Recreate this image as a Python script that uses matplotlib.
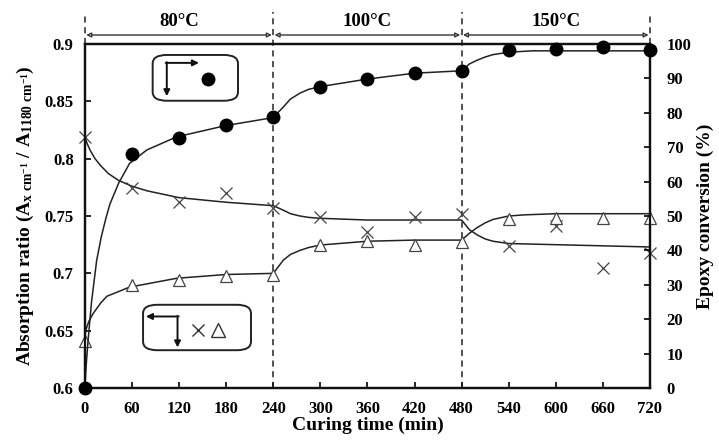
import matplotlib
matplotlib.use("Agg")
import matplotlib.pyplot as plt
from matplotlib.patches import FancyBboxPatch

# measured points
time = [0, 60, 120, 180, 240, 300, 360, 420, 480, 540, 600, 660, 720]
conversion = [0, 68.0, 72.8, 76.4, 78.7, 87.6, 89.8, 91.5, 92.2, 98.1, 98.5, 99.0, 98.3]
ratio_x = [0.819, 0.774, 0.762, 0.770, 0.757, 0.749, 0.736, 0.749, 0.752,
           0.724, 0.741, 0.705, 0.718]
ratio_tri = [0.641, 0.690, 0.694, 0.698, 0.699, 0.725, 0.728, 0.725, 0.727,
             0.747, 0.748, 0.748, 0.748]

# fitted curves
fit_t_conv = [0, 1, 2, 4, 8.5, 15, 21, 27, 32, 43, 57, 79, 117, 180, 240, 253, 262,
              274, 285, 300, 360, 420, 480, 490, 500, 510, 520, 540, 570, 720]
fit_conv = [0, 4, 7.5, 13.5, 25, 37, 44, 49.5, 53.5, 59.5, 65.3, 69.2, 73, 76.3, 78.6,
            81.7, 84.0, 85.7, 86.8, 87.6, 89.8, 91.5, 92.2, 94.2, 95.3, 96.2, 96.9,
            97.6, 98, 98]
fit_t_x = [0, 3, 7, 13, 20, 30, 43, 60, 79, 120, 180, 240, 253, 262, 274, 285, 300,
           360, 420, 480, 490, 500, 510, 520, 540, 600, 720]
fit_x = [0.819, 0.813, 0.807, 0.800, 0.794, 0.787, 0.781, 0.776, 0.772, 0.766, 0.762,
         0.759, 0.755, 0.752, 0.750, 0.7488, 0.748, 0.7465, 0.7465, 0.7465, 0.738,
         0.7335, 0.730, 0.728, 0.726, 0.725, 0.723]
fit_t_tri = [0, 1.5, 5, 10.6, 20, 28, 57, 117, 180, 240, 253, 262, 274, 285, 300, 360,
             420, 480, 490, 500, 510, 520, 540, 560, 600, 720]
fit_tri = [0.645, 0.651, 0.658, 0.665, 0.674, 0.680, 0.688, 0.6957, 0.699, 0.700,
           0.7116, 0.7165, 0.720, 0.7225, 0.7247, 0.728, 0.729, 0.729, 0.735, 0.740,
           0.744, 0.747, 0.750, 0.751, 0.752, 0.752]

stages = ["80°C", "100°C", "150°C"]
stage_edges = [0, 240, 480, 720]
xticks = list(range(0, 721, 60))
left_ticks = [0.6, 0.65, 0.7, 0.75, 0.8, 0.85, 0.9]
left_labels = ["0.6", "0.65", "0.7", "0.75", "0.8", "0.85", "0.9"]
right_ticks = list(range(0, 101, 10))

plt.rcParams["font.family"] = "Liberation Serif"
plt.rcParams["font.weight"] = "bold"
plt.rcParams["mathtext.fontset"] = "custom"
plt.rcParams["mathtext.rm"] = "Liberation Serif:bold"
plt.rcParams["mathtext.it"] = "Liberation Serif:bold"
plt.rcParams["mathtext.bf"] = "Liberation Serif:bold"

fig = plt.figure(figsize=(7.19, 4.44), dpi=100)
ax = fig.add_axes([0.118, 0.126, 0.786, 0.775])
ax2 = ax.twinx()

ax.set_xlim(0, 720)
ax.set_ylim(0.6, 0.9)
ax2.set_ylim(0, 100)

# stage separators
for t in stage_edges:
    lo = 0.6 if t in (240, 480) else 0.9
    ax.plot([t, t], [lo, 0.928], ls=(0, (4, 3)), color="#222222", lw=1.1, clip_on=False)
for a, b, name in zip(stage_edges[:-1], stage_edges[1:], stages):
    ax.annotate("", xy=(a, 0.9078), xytext=(b, 0.9078), annotation_clip=False,
                arrowprops=dict(arrowstyle="<|-|>", color="#333333", lw=1.0,
                                shrinkA=1, shrinkB=1, mutation_scale=7,
                                fc="white"))
    ax.text((a + b) / 2, 0.9195, name, ha="center", va="center", fontsize=13.5,
            fontweight="bold", clip_on=False)

# curves and markers
ax.plot(fit_t_x, fit_x, color="#222222", lw=1.1)
ax.plot(fit_t_tri, fit_tri, color="#222222", lw=1.1)
ax.plot(time, ratio_x, ls="none", marker="x", ms=9, mew=0.9, color="#444444",
        clip_on=False, zorder=4)
ax.plot(time, ratio_tri, ls="none", marker="^", ms=9, mew=0.9, mfc="white",
        mec="#444444", clip_on=False, zorder=4)
ax2.plot(fit_t_conv, fit_conv, color="#222222", lw=1.1)
ax2.plot(time, conversion, ls="none", marker="o", ms=9, color="black",
         clip_on=False, zorder=5)

# key boxes
for box in [(0.120, 0.835, 0.151, 0.133), (0.103, 0.110, 0.191, 0.132)]:
    ax.add_patch(FancyBboxPatch(box[:2], box[2], box[3], transform=ax.transAxes,
                                boxstyle="round,pad=0,rounding_size=0.025",
                                fc="white", ec="#222222", lw=1.4, zorder=6))
akw = dict(arrowstyle="-|>", color="#111111", lw=1.4, mutation_scale=9,
           shrinkA=0, shrinkB=0)
ax.annotate("", xy=(0.145, 0.848), xytext=(0.145, 0.947), xycoords="axes fraction",
            arrowprops=akw, zorder=7)
ax.annotate("", xy=(0.202, 0.945), xytext=(0.143, 0.945), xycoords="axes fraction",
            arrowprops=akw, zorder=7)
ax.plot([0.218], [0.898], "o", ms=9, color="black", transform=ax.transAxes, zorder=7)
ax.annotate("", xy=(0.108, 0.208), xytext=(0.166, 0.208), xycoords="axes fraction",
            arrowprops=akw, zorder=7)
ax.annotate("", xy=(0.164, 0.118), xytext=(0.164, 0.210), xycoords="axes fraction",
            arrowprops=akw, zorder=7)
ax.plot([0.200], [0.169], "x", ms=9, mew=1.0, color="#333333", transform=ax.transAxes,
        zorder=7)
ax.plot([0.236], [0.169], "^", ms=10, mew=1.0, mfc="white", mec="#333333",
        transform=ax.transAxes, zorder=7)

# axes styling
for a in (ax, ax2):
    for s in a.spines.values():
        s.set_linewidth(1.6)
        s.set_color("#111111")
ax.set_xticks(xticks)
ax.set_yticks(left_ticks)
ax.set_yticklabels(left_labels)
ax2.set_yticks(right_ticks)
ax.tick_params(axis="x", direction="in", length=4, width=1.2, pad=9, labelsize=12)
ax.tick_params(axis="y", direction="in", length=4, width=1.2, pad=8, labelsize=12)
ax2.tick_params(axis="y", direction="in", length=4, width=1.2, pad=12, labelsize=12)

ax.set_xlabel("Curing time (min)", fontsize=14, fontweight="bold", labelpad=0)
ax.set_ylabel(r"Absorption ratio (A$_{\mathrm{x\ cm^{-1}}}$ / A$_{\mathrm{1180\ cm^{-1}}}$)",
              fontsize=14, fontweight="bold", labelpad=6)
ax2.set_ylabel("Epoxy conversion (%)", fontsize=14, fontweight="bold",
               rotation=90, labelpad=4)

fig.savefig("out.png", dpi=100)
